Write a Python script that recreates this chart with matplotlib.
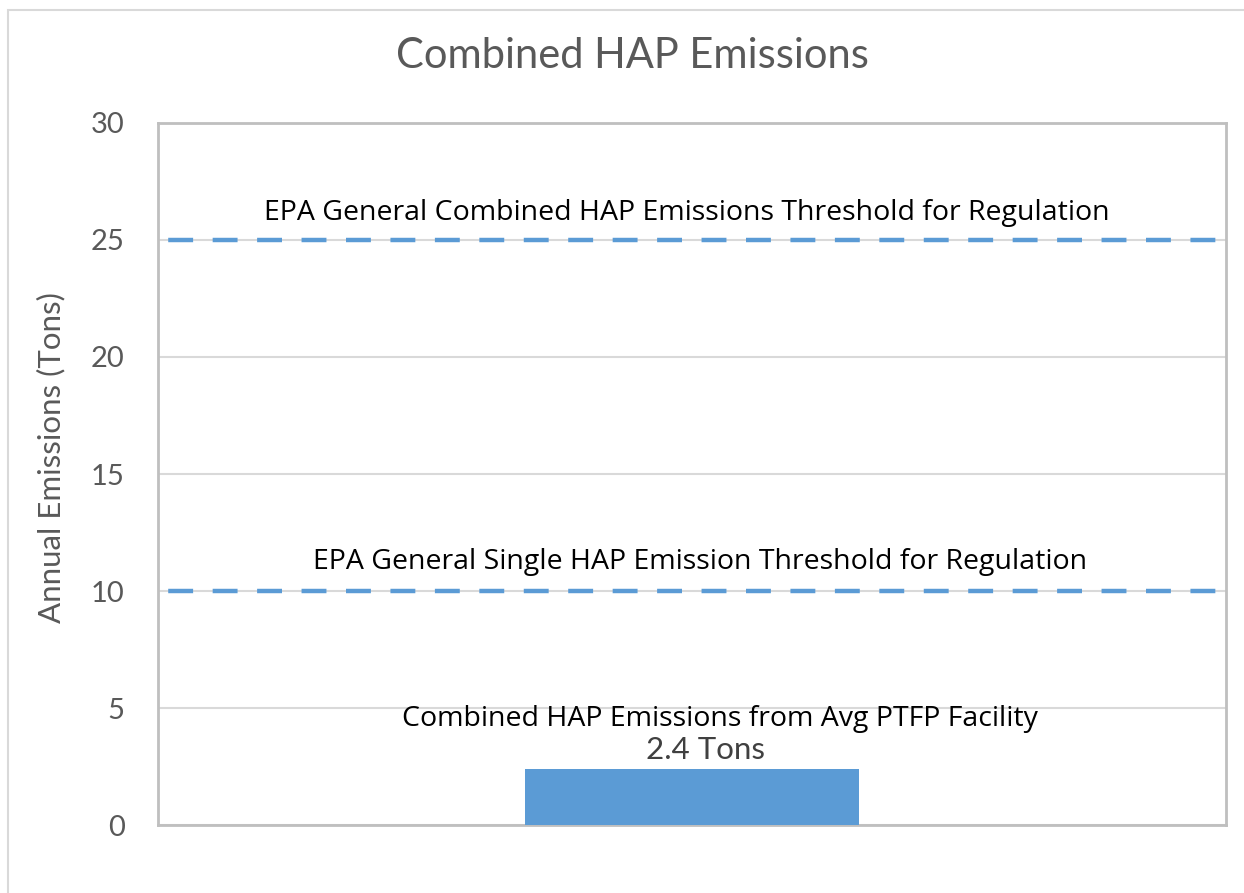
import numpy as np
import matplotlib.pyplot as plt
from matplotlib.patches import Rectangle

# data
categories = ['Avg PTFP Facility']
values = [2.4]
thresholds = [25, 10]
threshold_labels = ['EPA General Combined HAP Emissions Threshold for Regulation',
                    'EPA General Single HAP Emission Threshold for Regulation']
bar_label = 'Combined HAP Emissions from Avg PTFP Facility'
yticks = [0, 5, 10, 15, 20, 25, 30]

blue = '#5B9BD5'
grey_txt = '#595959'

fig = plt.figure(figsize=(12.44, 8.93), dpi=100)
ax = fig.add_axes([0.127, 0.0761, 0.8585, 0.7862])

# outer chart border
fig.patches.append(Rectangle((8/1244, -0.1), 1.2, 1 - 10/893 + 0.1, transform=fig.transFigure,
                             fill=False, edgecolor='#D9D9D9', linewidth=1.5))

ax.bar(0, values[0], width=0.312, color=blue, zorder=3)

for t in thresholds:
    ax.axhline(t, color=blue, linewidth=3.2, linestyle=(-2.3, (5.6, 4.4)), zorder=3)

ax.set_xlim(-0.5, 0.5)
ax.set_ylim(0, 30)
ax.set_yticks(yticks)
ax.set_xticks([])
ax.grid(axis='y', color='#D9D9D9', linewidth=1.5, zorder=0)
ax.tick_params(axis='y', length=0, pad=24, labelsize=21, labelcolor=grey_txt)
for lab in ax.get_yticklabels():
    lab.set_family('Lato')
for s in ax.spines.values():
    s.set_color('#BFBFBF')
    s.set_linewidth(2)

ax.set_ylabel('Annual Emissions (Tons)', fontsize=22.5, color=grey_txt, family='Lato')
ax.yaxis.set_label_coords(-0.087, 0.524)
fig.text(0.508, 0.937, 'Combined HAP Emissions', fontsize=30, color=grey_txt,
         family='Lato', ha='center', va='center')

ax.text(-0.0047, 26.15, threshold_labels[0], fontsize=20.5, family='Open Sans',
        ha='center', va='center', color='black', zorder=4)
ax.text(0.0075, 11.24, threshold_labels[1], fontsize=20.5, family='Open Sans',
        ha='center', va='center', color='black', zorder=4)
ax.text(0.026, 4.53, bar_label, fontsize=20.5, family='Open Sans',
        ha='center', va='center', color='black', zorder=4)
ax.text(0.0131, 3.2, '%.1f Tons' % values[0], fontsize=22.5, family='Lato',
        ha='center', va='center', color='#404040', zorder=4)

plt.savefig('out.png', dpi=100)
